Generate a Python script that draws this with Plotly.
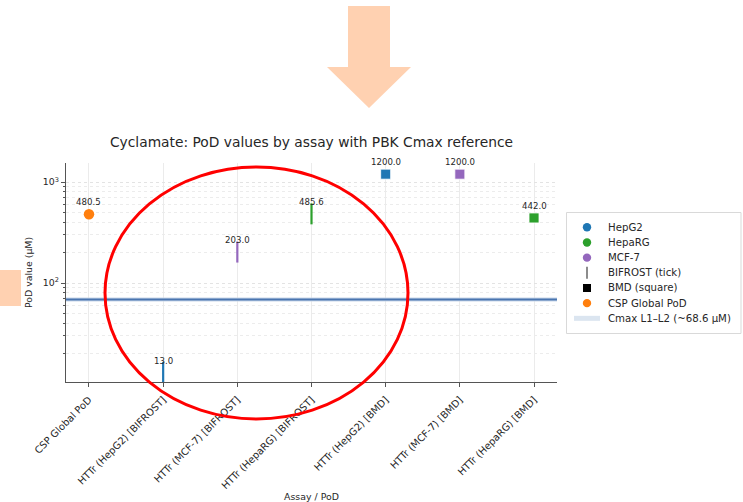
import math
import plotly.graph_objects as go

# ---- data ----
categories = [
    "CSP Global PoD",
    "HTTr (HepG2) [BIFROST]",
    "HTTr (MCF-7) [BIFROST]",
    "HTTr (HepaRG) [BIFROST]",
    "HTTr (HepG2) [BMD]",
    "HTTr (MCF-7) [BMD]",
    "HTTr (HepaRG) [BMD]",
]
pod_values = [480.5, 13.0, 203.0, 485.6, 1200.0, 1200.0, 442.0]
cell_lines = ["CSP", "HepG2", "MCF-7", "HepaRG", "HepG2", "MCF-7", "HepaRG"]
pod_kinds = ["global", "tick", "tick", "tick", "square", "square", "square"]
cmax_value = 68.6

legend_labels = ["HepG2", "HepaRG", "MCF-7", "BIFROST (tick)", "BMD (square)",
                 "CSP Global PoD", "Cmax L1–L2 (~68.6 µM)"]

colors = {"HepG2": "#1f77b4", "HepaRG": "#2ca02c", "MCF-7": "#9467bd", "CSP": "#ff7f0e"}

W, H = 743, 502
ML, MR, MT, MB = 66, 186, 163, 120
PW, PH = W - ML - MR, H - MT - MB


def px_x(x):
    return (x - ML) / PW


def px_y(y):
    return (H - MB - y) / PH


FONT = "DejaVu Sans, Liberation Sans, sans-serif"
TXT = "#262626"
fig = go.Figure()

# data marks, one trace per point so each keeps its own glyph
for cat, val, line, kind in zip(categories, pod_values, cell_lines, pod_kinds):
    c = colors[line]
    if kind == "tick":
        marker = dict(symbol="line-ns", size=15, line=dict(color=c, width=2.2))
    elif kind == "square":
        marker = dict(symbol="square", size=10, color=c, line=dict(color="white", width=0.8))
    else:
        marker = dict(symbol="circle", size=10.5, color=c, line=dict(width=0))
    fig.add_trace(go.Scatter(x=[cat], y=[val], mode="markers", marker=marker,
                             showlegend=False, hoverinfo="x+y"))
    # value label above the mark (annotation y on a log axis is given as log10)
    fig.add_annotation(x=cat, y=math.log10(val), xref="x", yref="y", text=f"{val:.1f}",
                       showarrow=False, yshift=12,
                       font=dict(family=FONT, size=8.6, color=TXT))

# Cmax reference line
fig.add_shape(type="line", xref="paper", x0=0, x1=1, yref="y", y0=cmax_value, y1=cmax_value,
              line=dict(color="#c9d8ea", width=4), layer="above")
fig.add_shape(type="line", xref="paper", x0=0, x1=1, yref="y", y0=cmax_value, y1=cmax_value,
              line=dict(color="#4a75b0", width=2), layer="above")

# ---- legend box, drawn in paper coordinates ----
fig.add_shape(type="rect", xref="paper", yref="paper",
              x0=px_x(566.5), x1=px_x(741), y0=px_y(212.5), y1=px_y(333.5),
              fillcolor="white", line=dict(color="#d9d9d9", width=1), layer="above")
row0, row_step, gx, tx = 227.3, 15.17, 587, 606
for i, label in enumerate(legend_labels):
    cy = row0 + i * row_step
    if label in ("HepG2", "HepaRG", "MCF-7", "CSP Global PoD"):
        c = colors["CSP"] if label == "CSP Global PoD" else colors[label]
        fig.add_shape(type="circle", xref="paper", yref="paper",
                      x0=px_x(gx - 4.2), x1=px_x(gx + 4.2), y0=px_y(cy - 4.2), y1=px_y(cy + 4.2),
                      fillcolor=c, line=dict(width=0), layer="above")
    elif label.startswith("BIFROST"):
        fig.add_shape(type="line", xref="paper", yref="paper",
                      x0=px_x(gx), x1=px_x(gx), y0=px_y(cy - 6), y1=px_y(cy + 6),
                      line=dict(color="#666666", width=1.5), layer="above")
    elif label.startswith("BMD"):
        fig.add_shape(type="rect", xref="paper", yref="paper",
                      x0=px_x(gx - 4), x1=px_x(gx + 4), y0=px_y(cy - 4), y1=px_y(cy + 4),
                      fillcolor="black", line=dict(width=0), layer="above")
    else:
        fig.add_shape(type="line", xref="paper", yref="paper",
                      x0=px_x(574), x1=px_x(600), y0=px_y(cy), y1=px_y(cy),
                      line=dict(color="#dbe5f0", width=5), layer="above")
    fig.add_annotation(xref="paper", yref="paper", x=px_x(tx), y=px_y(cy),
                       xanchor="left", yanchor="middle", showarrow=False, text=label,
                       font=dict(family=FONT, size=10.2, color=TXT))

# call-out graphics
fig.add_shape(type="path", xref="paper", yref="paper",
              path="M {} {} L {} {} L {} {} L {} {} L {} {} L {} {} L {} {} Z".format(
                  px_x(348), px_y(6), px_x(390), px_y(6), px_x(390), px_y(67),
                  px_x(411), px_y(67), px_x(369), px_y(108), px_x(327), px_y(67),
                  px_x(348), px_y(67)),
              fillcolor="#ffd1b1", line=dict(width=0), layer="above")
fig.add_shape(type="rect", xref="paper", yref="paper",
              x0=px_x(0), x1=px_x(21), y0=px_y(270), y1=px_y(306),
              fillcolor="#ffd1b1", line=dict(width=0), layer="above")
fig.add_shape(type="circle", xref="paper", yref="paper",
              x0=px_x(105), x1=px_x(408), y0=px_y(167), y1=px_y(419),
              line=dict(color="#ff0000", width=3), layer="above")

minor_vals = [v * m for m in (10, 100, 1000) for v in range(2, 10)]

fig.update_layout(
    width=W, height=H,
    margin=dict(l=ML, r=MR, t=MT, b=MB, autoexpand=False),
    paper_bgcolor="white", plot_bgcolor="white",
    font=dict(family=FONT, size=9, color=TXT),
    title=dict(text="Cyclamate: PoD values by assay with PBK Cmax reference",
               x=px_x(311.5), xref="paper", y=1 - 142 / H, yref="container",
               xanchor="center", yanchor="middle", font=dict(size=13.8, color=TXT)),
    showlegend=False,
    xaxis=dict(
        type="category", categoryorder="array", categoryarray=categories,
        range=[-0.31, 6.31], tickangle=-45, automargin=False,
        showline=True, linecolor="#555555", linewidth=1.3,
        ticks="outside", ticklen=4, tickcolor="#555555", ticklabelstandoff=3,
        showgrid=True, gridcolor="#ebebeb", gridwidth=1, zeroline=False,
        tickfont=dict(size=9.9),
        title=dict(text="Assay / PoD", font=dict(size=9.4), standoff=14),
    ),
    yaxis=dict(
        type="log", range=[1.02, 3.19], automargin=False,
        tickvals=[100, 1000], ticktext=["10<sup>2</sup>", "10<sup>3</sup>"],
        showline=True, linecolor="#555555", linewidth=1.3,
        ticks="outside", ticklen=4, tickcolor="#555555",
        showgrid=True, gridcolor="#e3e3e3", griddash="dot", zeroline=False,
        tickfont=dict(size=9.4),
        minor=dict(tickvals=minor_vals, ticks="outside", ticklen=2, tickcolor="#555555",
                   showgrid=True, gridcolor="#ececec", griddash="dot"),
        title=dict(text="PoD value (µM)", font=dict(size=9.4), standoff=8),
    ),
)

fig.write_html("out.html")
